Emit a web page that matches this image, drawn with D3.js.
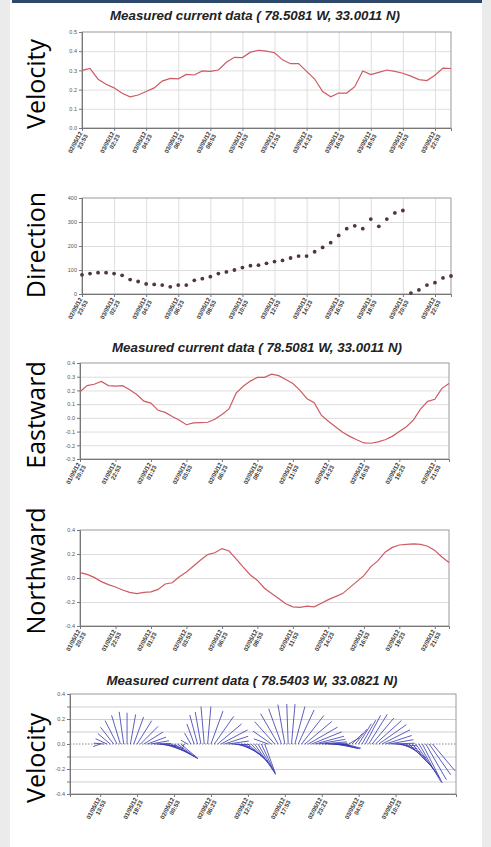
<!DOCTYPE html>
<html>
<head>
<meta charset="utf-8">
<script src="https://cdn.jsdelivr.net/npm/d3@7"></script>
<style>
  body { margin: 0; background: #ebebeb; }
  svg { display: block; }
</style>
</head>
<body>
<svg id="chart" width="491" height="847"></svg>
<script>
// ---- data ----
const speedTopDates = ['02/05/12','03/05/12','03/05/12','03/05/12','03/05/12','03/05/12','03/05/12','03/05/12','03/05/12','03/05/12','03/05/12','03/05/12']
const speedTopTimes = ['23:53','02:23','04:23','06:23','08:53','10:53','12:53','14:23','16:53','18:53','20:53','22:53']

const speedTop = [0.30,0.31,0.254,0.228,0.209,0.181,0.162,0.172,0.19,0.209,0.244,0.258,0.256,0.279,0.276,0.297,0.295,0.302,
  0.342,0.368,0.367,0.395,0.405,0.40,0.392,0.355,0.335,0.335,0.295,0.255,0.19,0.163,0.182,0.182,0.215,0.297,
  0.278,0.29,0.302,0.295,0.285,0.27,0.252,0.247,0.275,0.312,0.31]

const direction = [80,85,89,89,85,78,60,52,42,40,37,30,37,37,57,64,72,85,92,100,110,118,120,128,135,140,150,158,158,
  176,194,214,244,272,284,272,312,282,312,338,348,4,17,37,47,67,75]

const compDates = ['01/05/12','01/05/12','02/05/12','02/05/12','02/05/12','02/05/12','02/05/12','02/05/12','02/05/12','02/05/12','02/05/12']
const compTimes = ['20:23','22:53','01:23','03:53','06:23','08:53','11:53','14:23','16:53','19:23','21:53']

const eastward = [0.19,0.235,0.245,0.265,0.235,0.232,0.235,0.205,0.17,0.122,0.108,0.055,0.04,0.01,-0.018,-0.05,-0.037,
  -0.035,-0.032,-0.01,0.025,0.065,0.18,0.23,0.268,0.295,0.295,0.318,0.308,0.28,0.25,0.2,0.14,0.11,0.02,-0.025,
  -0.065,-0.105,-0.135,-0.16,-0.183,-0.185,-0.175,-0.16,-0.135,-0.1,-0.065,-0.015,0.065,0.12,0.135,0.215,0.25]

const northward = [0.045,0.03,0.005,-0.03,-0.055,-0.075,-0.1,-0.12,-0.13,-0.12,-0.115,-0.095,-0.05,-0.04,0.01,0.05,0.1,
  0.15,0.195,0.21,0.245,0.225,0.16,0.09,0.025,-0.02,-0.085,-0.13,-0.17,-0.215,-0.24,-0.245,-0.235,-0.24,-0.21,
  -0.18,-0.155,-0.13,-0.08,-0.03,0.02,0.095,0.145,0.215,0.255,0.275,0.28,0.285,0.28,0.265,0.23,0.175,0.13]

const stickDates = ['01/05/12','01/05/12','02/05/12','02/05/12','02/05/12','02/05/12','02/05/12','03/05/12','03/05/12']
const stickTimes = ['13:53','19:23','00:53','06:23','12:23','17:53','23:23','04:53','10:23']

// stick plot: speed (m/s) and heading (degrees clockwise from north), one per half hour
const stickSpeed = [0.06,0.08,0.10,0.13,0.17,0.21,0.24,0.26,0.25,0.24,0.23,0.22,0.20,0.18,0.16,0.15,0.14,0.15,0.17,0.19,
  0.20,0.21,0.21,0.20,0.18,0.05,0.06,0.10,0.17,0.24,0.26,0.30,0.30,0.28,0.27,0.25,0.24,0.20,0.17,0.15,
  0.13,0.15,0.18,0.20,0.22,0.24,0.26,0.27,0.27,0.25,0.12,0.18,0.24,0.28,0.30,0.32,0.32,0.32,0.31,0.30,
  0.29,0.28,0.27,0.26,0.24,0.22,0.20,0.18,0.16,0.15,0.17,0.16,0.15,0.13,0.10,0.12,0.15,0.19,0.22,0.26,
  0.28,0.27,0.28,0.27,0.25,0.22,0.20,0.18,0.17,0.15,0.16,0.20,0.25,0.30,0.33,0.35,0.35,0.33,0.30,0.28]
const stickDir = [250,275,295,310,322,333,343,352,0,10,20,32,45,58,70,80,88,95,100,108,
  113,118,122,126,130,200,300,330,340,345,350,355,5,20,35,50,62,72,82,92,
  100,110,118,125,132,138,145,150,155,160,290,305,318,330,340,350,358,5,15,25,
  38,50,60,68,75,80,85,88,92,95,100,103,105,105,60,45,38,32,30,28,
  32,40,48,55,63,72,80,88,95,105,115,125,135,140,145,150,153,150,145,140]

// ---- drawing ----
const svg = d3.select('#chart')
svg.append('rect').attr('width', 491).attr('height', 847).attr('fill', '#ebebeb')
svg.append('rect').attr('x', 10).attr('width', 472).attr('height', 847).attr('fill', '#fff')
svg.append('rect').attr('x', 12).attr('width', 470).attr('height', 3).attr('fill', '#2d4869')

const tickFont = 'Liberation Sans, Arial, sans-serif'
const lineColor = '#cf5a63'

function title(txt, cx, y) {
  svg.append('text').attr('x', cx).attr('y', y).attr('text-anchor', 'middle')
    .attr('font-family', tickFont).attr('font-weight', 'bold').attr('font-style', 'italic')
    .attr('font-size', 13.3).attr('fill', '#222').text(txt)
}

function sideLabel(txt, cy) {
  svg.append('text').attr('transform', `translate(35,${cy}) rotate(-90)`)
    .attr('text-anchor', 'middle').attr('dominant-baseline', 'central')
    .attr('font-family', 'Open Sans, sans-serif').attr('font-size', 25).attr('fill', '#000').text(txt)
}

function panel(o) {
  const x = d3.scaleLinear().domain(o.xDomain).range([o.left, o.right])
  const y = d3.scaleLinear().domain(o.yDomain).range([o.bottom, o.top])
  const g = svg.append('g')
  const w = o.right - o.left, h = o.bottom - o.top

  // horizontal grid
  g.append('g').attr('transform', `translate(${o.left},0)`)
    .call(d3.axisLeft(y).tickValues(o.grid).tickSize(-w).tickFormat(''))
    .call(s => s.select('.domain').remove())
    .call(s => s.selectAll('line').attr('stroke', o.gridColor || '#dedede'))

  if (o.vgrid) {
    g.append('g').attr('transform', `translate(0,${o.bottom})`)
      .call(d3.axisBottom(x).tickValues(o.xTicks).tickSize(-h).tickFormat(''))
      .call(s => s.select('.domain').remove())
      .call(s => s.selectAll('line').attr('stroke', '#dedede'))
  }

  g.append('rect').attr('x', o.left).attr('y', o.top).attr('width', w).attr('height', h)
    .attr('fill', 'none').attr('stroke', '#9a9a9a')

  // y axis
  g.append('g').attr('transform', `translate(${o.left},0)`)
    .call(d3.axisLeft(y).tickValues(o.yTicks).tickSize(3).tickPadding(2)
      .tickFormat(d => o.yLabels.includes(d) ? d.toFixed(o.dec) : ''))
    .call(s => s.select('.domain').attr('stroke', '#777'))
    .call(s => s.selectAll('line').attr('stroke', '#777'))
    .call(s => s.selectAll('text').attr('font-family', tickFont).attr('font-size', 5.5).attr('fill', '#555'))

  // x axis with two-line rotated labels
  const xa = g.append('g').attr('transform', `translate(0,${o.bottom})`)
    .call(d3.axisBottom(x).tickValues(o.xTicks).tickSize(3).tickFormat(''))
    .call(s => s.select('.domain').attr('stroke', '#777'))
    .call(s => s.selectAll('line').attr('stroke', '#777'))
  xa.selectAll('.tick').each(function (d, i) {
    const t = d3.select(this).append('text')
      .attr('transform', 'translate(0,5) rotate(-62)')
      .attr('text-anchor', 'end').attr('font-family', tickFont).attr('font-weight', 'bold')
      .attr('font-size', 6).attr('fill', '#333')
    t.append('tspan').attr('x', 0).attr('dy', 0).text(o.dates[i])
    t.append('tspan').attr('x', 0).attr('dy', 6.2).text(o.times[i])
  })
  return { x, y, g }
}

// panel 1 : speed
title('Measured current data ( 78.5081 W, 33.0011 N)', 255, 20)
sideLabel('Velocity', 84)
const p1 = panel({
  left: 82, right: 451, top: 32, bottom: 128,
  xDomain: [0, 46], yDomain: [0, 0.5], dec: 1,
  xTicks: d3.range(0, 47, 4), dates: speedTopDates, times: speedTopTimes,
  yTicks: [0, 0.1, 0.2, 0.3, 0.4, 0.5], yLabels: [0, 0.1, 0.2, 0.3, 0.4, 0.5],
  grid: [0.1, 0.2, 0.3, 0.4], vgrid: true
})
p1.g.append('path').datum(speedTop)
  .attr('d', d3.line().x((d, i) => p1.x(i)).y(d => p1.y(d)))
  .attr('fill', 'none').attr('stroke', lineColor).attr('stroke-width', 1.2)

// panel 2 : direction
sideLabel('Direction', 245)
const p2 = panel({
  left: 82, right: 451, top: 198, bottom: 294,
  xDomain: [0, 46], yDomain: [0, 400], dec: 0,
  xTicks: d3.range(0, 47, 4), dates: speedTopDates, times: speedTopTimes,
  yTicks: [0, 100, 200, 300, 400], yLabels: [0, 100, 200, 300, 400],
  grid: [100, 200, 300], vgrid: true
})
p2.g.selectAll('circle').data(direction).join('circle')
  .attr('cx', (d, i) => p2.x(i)).attr('cy', d => p2.y(d)).attr('r', 1.9).attr('fill', '#52363c')

// panel 3 : eastward
title('Measured current data ( 78.5081 W, 33.0011 N)', 257, 352)
sideLabel('Eastward', 415)
const p3 = panel({
  left: 80, right: 449, top: 363, bottom: 459,
  xDomain: [0, 52], yDomain: [-0.3, 0.4], dec: 1,
  xTicks: d3.range(0, 53, 5), dates: compDates, times: compTimes,
  yTicks: [-0.3, -0.2, -0.1, 0, 0.1, 0.2, 0.3, 0.4], yLabels: [-0.3, -0.2, -0.1, 0, 0.1, 0.2, 0.3, 0.4],
  grid: [-0.2, -0.1, 0, 0.1, 0.2, 0.3], vgrid: false
})
p3.g.append('path').datum(eastward)
  .attr('d', d3.line().x((d, i) => p3.x(i)).y(d => p3.y(d)))
  .attr('fill', 'none').attr('stroke', lineColor).attr('stroke-width', 1.2)

// panel 4 : northward
sideLabel('Northward', 571)
const p4 = panel({
  left: 80, right: 449, top: 530, bottom: 626,
  xDomain: [0, 52], yDomain: [-0.4, 0.4], dec: 1,
  xTicks: d3.range(0, 53, 5), dates: compDates, times: compTimes,
  yTicks: [-0.4, -0.2, 0, 0.2, 0.4], yLabels: [-0.4, -0.2, 0, 0.2, 0.4],
  grid: [-0.2, 0, 0.2], vgrid: false
})
p4.g.append('path').datum(northward)
  .attr('d', d3.line().x((d, i) => p4.x(i)).y(d => p4.y(d)))
  .attr('fill', 'none').attr('stroke', lineColor).attr('stroke-width', 1.2)

// panel 5 : stick plot
title('Measured current data ( 78.5403 W, 33.0821 N)', 252, 685)
sideLabel('Velocity', 758)
const p5 = panel({
  left: 70, right: 456, top: 694, bottom: 794,
  xDomain: [-9, 106], yDomain: [-0.4, 0.4], dec: 1,
  xTicks: d3.range(0, 89, 11), dates: stickDates, times: stickTimes,
  yTicks: [-0.4, -0.3, -0.2, -0.1, 0, 0.1, 0.2, 0.3, 0.4], yLabels: [-0.4, -0.2, 0, 0.2, 0.4],
  grid: [-0.3, -0.2, -0.1, 0.1, 0.2, 0.3], vgrid: false, gridColor: '#cfcfcf'
})
p5.g.append('line').attr('x1', 70).attr('x2', 456).attr('y1', p5.y(0)).attr('y2', p5.y(0))
  .attr('stroke', '#888').attr('stroke-dasharray', '1.5,1.5')
const unit = p5.y(0) - p5.y(1)
p5.g.selectAll('line.stick').data(stickSpeed).join('line').attr('class', 'stick')
  .attr('x1', (d, i) => p5.x(i)).attr('y1', p5.y(0))
  .attr('x2', (d, i) => p5.x(i) + d * Math.sin(stickDir[i] * Math.PI / 180) * unit)
  .attr('y2', (d, i) => p5.y(d * Math.cos(stickDir[i] * Math.PI / 180)))
  .attr('stroke', '#3535b0').attr('stroke-width', 0.8)
</script>
</body>
</html>
